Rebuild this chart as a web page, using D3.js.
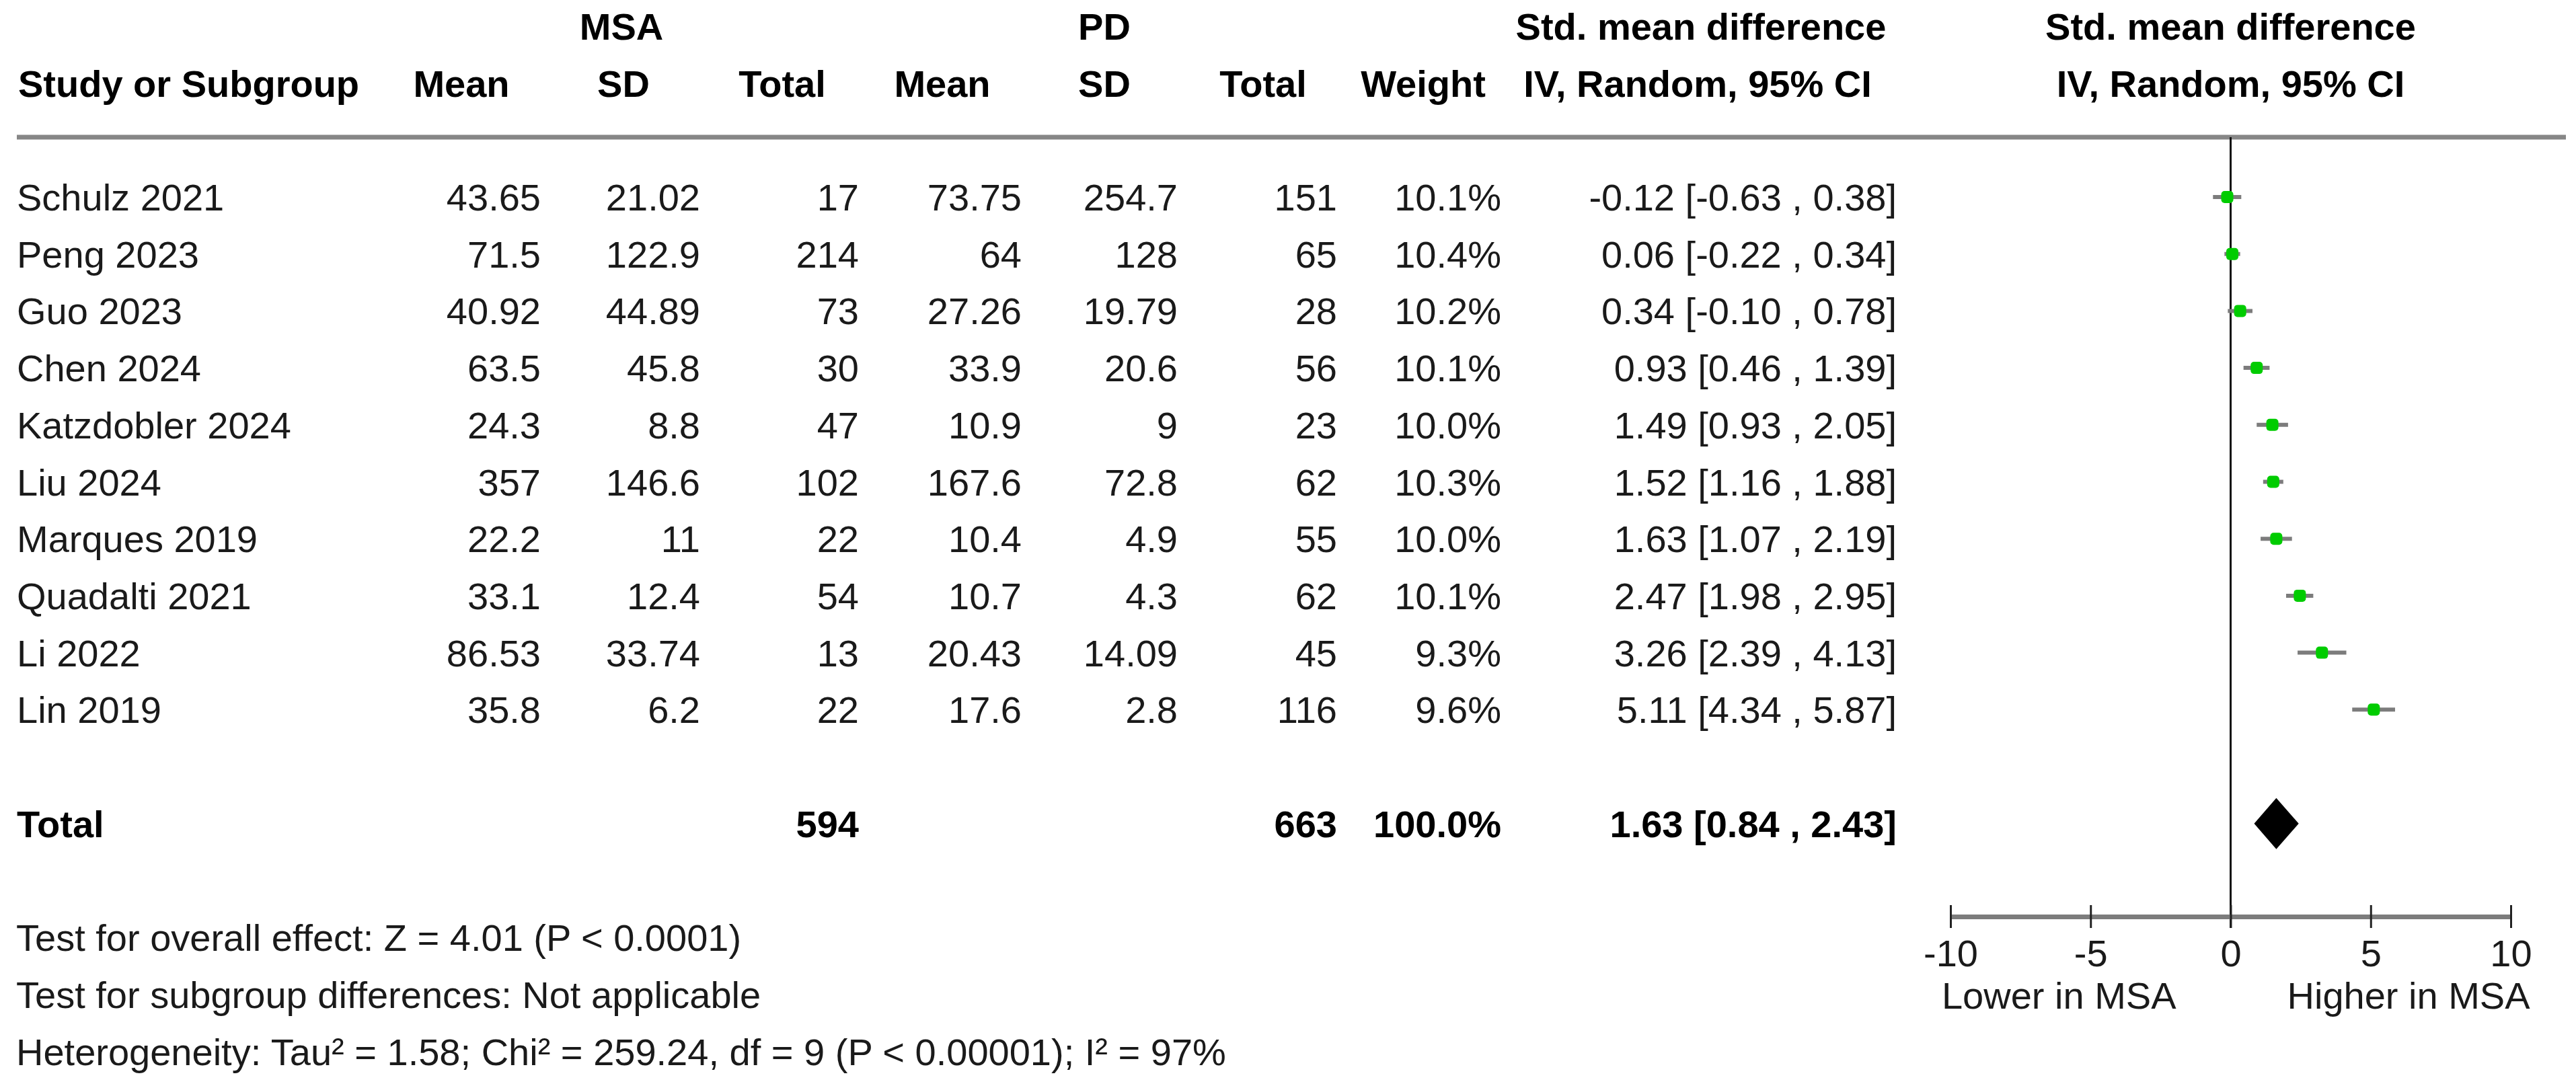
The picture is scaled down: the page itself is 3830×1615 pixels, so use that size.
<!DOCTYPE html>
<html>
<head>
<meta charset="utf-8">
<script src="https://cdn.jsdelivr.net/npm/d3@7"></script>
<style>
  html, body { margin: 0; padding: 0; background: #ffffff; }
  svg { display: block; }
</style>
</head>
<body>
<div id="chart"></div>
<script>
// Study rows, top to bottom
const studies = ['Schulz 2021', 'Peng 2023', 'Guo 2023', 'Chen 2024', 'Katzdobler 2024',
  'Liu 2024', 'Marques 2019', 'Quadalti 2021', 'Li 2022', 'Lin 2019']

// MSA group
const msaMean = [43.65, 71.5, 40.92, 63.5, 24.3, 357, 22.2, 33.1, 86.53, 35.8]
const msaSD = [21.02, 122.9, 44.89, 45.8, 8.8, 146.6, 11, 12.4, 33.74, 6.2]
const msaTotal = [17, 214, 73, 30, 47, 102, 22, 54, 13, 22]

// PD group
const pdMean = [73.75, 64, 27.26, 33.9, 10.9, 167.6, 10.4, 10.7, 20.43, 17.6]
const pdSD = [254.7, 128, 19.79, 20.6, 9, 72.8, 4.9, 4.3, 14.09, 2.8]
const pdTotal = [151, 65, 28, 56, 23, 62, 55, 62, 45, 116]

// Weights (%) and std. mean difference with 95% CI
const weight = [10.1, 10.4, 10.2, 10.1, 10.0, 10.3, 10.0, 10.1, 9.3, 9.6]
const smd = [-0.12, 0.06, 0.34, 0.93, 1.49, 1.52, 1.63, 2.47, 3.26, 5.11]
const ciLow = [-0.63, -0.22, -0.10, 0.46, 0.93, 1.16, 1.07, 1.98, 2.39, 4.34]
const ciHigh = [0.38, 0.34, 0.78, 1.39, 2.05, 1.88, 2.19, 2.95, 4.13, 5.87]

// Pooled result
const totalMsa = 594
const totalPd = 663
const totalWeight = 100.0
const pooled = { est: 1.63, lo: 0.84, hi: 2.43 }

// Axis and footer text
const axisTicks = [-10, -5, 0, 5, 10]
const axisLabels = ['Lower in MSA', 'Higher in MSA']
const footerLines = [
  'Test for overall effect: Z = 4.01 (P < 0.0001)',
  'Test for subgroup differences: Not applicable',
  'Heterogeneity: Tau\u00b2 = 1.58; Chi\u00b2 = 259.24, df = 9 (P < 0.00001); I\u00b2 = 97%'
]

const width = 3830
const height = 1615
const fontFamily = '"Liberation Sans", Arial, Helvetica, sans-serif'
const fontSize = 56
const textColor = '#1a1a1a'

// plain hyphen for negatives, like the source table
const fmt2 = d => d.toFixed(2)
const fmtPct = d => d.toFixed(1) + '%'
const ciText = (e, l, h) => `${fmt2(e)} [${fmt2(l)} , ${fmt2(h)}]`

// Row grid: every line of the table sits on the same pitch
const rowY = d3.scaleLinear().domain([0, 1]).range([293, 377.7])
const baseline = i => rowY(i) + 20

// Effect scale
const x = d3.scaleLinear().domain([-10, 10]).range([2900, 3733])

const svg = d3.select('#chart')
  .append('svg')
  .attr('width', width)
  .attr('height', height)
  .style('font-family', fontFamily)
  .style('font-size', fontSize + 'px')

// Header text
const headerTop = [
  { t: 'MSA', x: 924 },
  { t: 'PD', x: 1642 },
  { t: 'Std. mean difference', x: 2529 },
  { t: 'Std. mean difference', x: x(0) }
]
const headerBottom = [
  { t: 'Study or Subgroup', x: 27, anchor: 'start' },
  { t: 'Mean', x: 686 },
  { t: 'SD', x: 927 },
  { t: 'Total', x: 1163 },
  { t: 'Mean', x: 1401 },
  { t: 'SD', x: 1642 },
  { t: 'Total', x: 1878 },
  { t: 'Weight', x: 2116 },
  { t: 'IV, Random, 95% CI', x: 2524 },
  { t: 'IV, Random, 95% CI', x: x(0) }
]

svg.append('g').selectAll('text')
  .data(headerTop.map(d => ({ ...d, row: -3 })).concat(headerBottom.map(d => ({ ...d, row: -2 }))))
  .join('text')
  .attr('x', d => d.x)
  .attr('y', d => baseline(d.row))
  .attr('text-anchor', d => d.anchor || 'middle')
  .attr('font-weight', 'bold')
  .attr('fill', '#000')
  .text(d => d.t)

// Header rule
svg.append('line')
  .attr('x1', 25).attr('x2', 3815)
  .attr('y1', 204).attr('y2', 204)
  .attr('stroke', '#868686')
  .attr('stroke-width', 7)

// Table columns for study rows
const columns = [
  { vals: studies, x: 25, anchor: 'start' },
  { vals: msaMean, x: 804 },
  { vals: msaSD, x: 1041 },
  { vals: msaTotal, x: 1277 },
  { vals: pdMean, x: 1519 },
  { vals: pdSD, x: 1751 },
  { vals: pdTotal, x: 1988 },
  { vals: weight.map(fmtPct), x: 2232 },
  { vals: studies.map((s, i) => ciText(smd[i], ciLow[i], ciHigh[i])), x: 2820 }
]

const body = svg.append('g').attr('fill', textColor)
columns.forEach(col => {
  body.append('g').selectAll('text')
    .data(col.vals)
    .join('text')
    .attr('x', col.x)
    .attr('y', (d, i) => baseline(i))
    .attr('text-anchor', col.anchor || 'end')
    .text(d => String(d))
})

// Total row
const totalRow = 11
const totals = [
  { t: 'Total', x: 25, anchor: 'start' },
  { t: String(totalMsa), x: 1277 },
  { t: String(totalPd), x: 1988 },
  { t: fmtPct(totalWeight), x: 2232 },
  { t: ciText(pooled.est, pooled.lo, pooled.hi), x: 2820 }
]
svg.append('g').selectAll('text')
  .data(totals)
  .join('text')
  .attr('x', d => d.x)
  .attr('y', baseline(totalRow))
  .attr('text-anchor', d => d.anchor || 'end')
  .attr('font-weight', 'bold')
  .attr('fill', '#000')
  .text(d => d.t)

// Footer notes, two rows below the total
svg.append('g').selectAll('text')
  .data(footerLines)
  .join('text')
  .attr('x', 24)
  .attr('y', (d, i) => baseline(13 + i))
  .attr('fill', textColor)
  .text(d => d)

// Forest plot
const axisY = 1363
const plot = svg.append('g')

// Line of no effect
plot.append('line')
  .attr('x1', x(0)).attr('x2', x(0))
  .attr('y1', 204).attr('y2', axisY + 17)
  .attr('stroke', '#111')
  .attr('stroke-width', 3)

// CI whiskers
plot.selectAll('.ci')
  .data(studies)
  .join('line')
  .attr('class', 'ci')
  .attr('x1', (d, i) => x(ciLow[i]))
  .attr('x2', (d, i) => x(ciHigh[i]))
  .attr('y1', (d, i) => rowY(i))
  .attr('y2', (d, i) => rowY(i))
  .attr('stroke', '#7c7c7c')
  .attr('stroke-width', 6)

// Point estimates
const markSize = 18
plot.selectAll('.est')
  .data(studies)
  .join('rect')
  .attr('class', 'est')
  .attr('x', (d, i) => x(smd[i]) - markSize / 2)
  .attr('y', (d, i) => rowY(i) - markSize / 2)
  .attr('width', markSize)
  .attr('height', markSize)
  .attr('rx', 5)
  .attr('fill', '#00cc00')

// Pooled diamond
const dy = 38
const cy = rowY(totalRow)
plot.append('path')
  .attr('d', `M${x(pooled.lo)},${cy}L${x(pooled.est)},${cy - dy}L${x(pooled.hi)},${cy}L${x(pooled.est)},${cy + dy}Z`)
  .attr('fill', '#000')

// Axis
const axis = d3.axisBottom(x)
  .tickValues(axisTicks)
  .tickSizeInner(17)
  .tickSizeOuter(0)
  .tickFormat(d => String(d))

const axisG = plot.append('g')
  .attr('transform', `translate(0,${axisY})`)
  .call(axis)

axisG.select('.domain')
  .attr('stroke', '#7c7c7c')
  .attr('stroke-width', 7)
axisG.selectAll('.tick line')
  .attr('y1', -17)
  .attr('y2', 17)
  .attr('stroke', '#222')
  .attr('stroke-width', 3)
axisG.selectAll('.tick text')
  .attr('y', 74)
  .attr('dy', null)
  .attr('fill', textColor)
  .style('font-family', fontFamily)
  .style('font-size', fontSize + 'px')

// Direction labels
plot.append('text')
  .attr('x', x(0) - 81)
  .attr('y', 1500)
  .attr('text-anchor', 'end')
  .attr('fill', textColor)
  .text(axisLabels[0])
plot.append('text')
  .attr('x', x(0) + 84)
  .attr('y', 1500)
  .attr('text-anchor', 'start')
  .attr('fill', textColor)
  .text(axisLabels[1])
</script>
</body>
</html>
